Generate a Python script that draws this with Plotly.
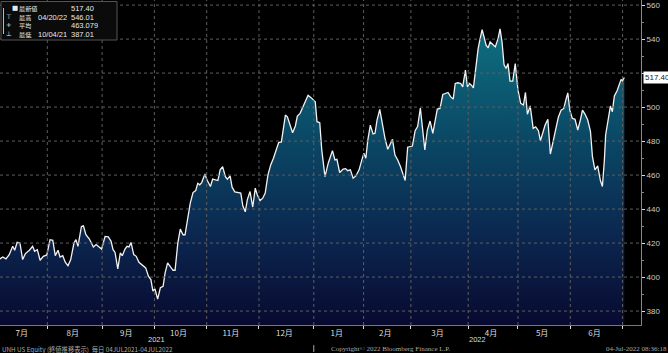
import plotly.graph_objects as go

# trading-day index (0 = 06JUL2021) and closing price
tday = [0.0,1.1,2.4,3.7,5.1,5.9,6.9,8.0,9.1,10.2,11.8,13.1,13.9,15.0,16.1,17.4,18.8,20.1,21.2,22.2,
        23.3,24.1,25.2,26.2,27.3,28.4,29.7,30.5,31.3,32.7,33.5,34.5,35.9,37.5,38.6,39.9,40.8,42.2,43.5,44.6,
        45.4,46.2,47.3,48.3,49.1,50.2,51.0,51.8,52.6,53.7,54.7,55.8,57.1,58.5,59.6,60.6,61.4,62.2,63.3,64.4,
        65.5,66.3,67.3,68.4,69.5,70.3,71.4,72.4,73.5,74.3,75.4,76.4,77.5,78.6,79.4,80.2,81.0,82.3,83.1,84.5,
        85.4,86.5,87.5,88.4,89.4,90.5,91.3,92.4,93.2,94.3,95.6,96.7,97.5,98.5,99.3,100.4,101.5,102.5,103.3,104.4,
        105.5,106.5,107.6,108.7,109.8,110.8,111.9,113.0,113.8,114.6,115.4,116.5,117.5,118.6,119.4,120.5,121.6,122.6,123.7,124.8,
        125.8,126.6,127.3,128.4,129.2,130.5,131.8,133.5,134.5,135.3,136.4,137.8,138.8,139.6,140.7,141.8,142.9,144.2,145.3,146.1,
        146.9,147.7,148.7,149.8,150.6,151.4,152.5,153.5,154.6,155.7,156.7,157.6,158.6,159.7,160.8,161.6,162.7,163.7,164.8,165.6,
        166.7,167.7,168.8,169.6,170.6,171.6,172.7,173.8,174.8,175.6,176.7,177.8,178.8,179.9,181.0,182.0,182.8,183.9,185.0,185.8,
        186.9,187.7,188.5,189.3,190.1,191.2,192.0,192.8,193.6,194.4,195.2,196.0,196.8,197.9,198.9,200.0,200.8,201.6,202.4,203.2,
        204.0,204.8,205.9,206.9,208.0,209.1,210.2,211.0,211.8,212.9,214.1,215.1,216.2,217.0,218.1,218.9,220.0,221.0,222.1,223.2,
        224.2,225.3,226.4,227.2,228.0,228.8,229.8,230.9,232.0,233.1,233.9,234.9,236.0,237.1,237.9,238.9,240.0,241.1,241.9,242.7,
        243.2,244.3,245.1,245.9,246.7,247.8,248.6,249.4,249.9,250.7]

price = [410.7,411.8,410.7,413.2,418.1,415.8,420.4,420.0,410.3,413.8,415.8,418.1,415.2,416.1,409.9,412.2,413.0,422.0,421.6,412.6,
         415.8,411.8,412.6,408.7,406.7,410.3,420.0,422.0,418.1,429.8,430.2,424.9,422.4,417.7,419.1,417.7,416.5,423.9,423.6,421.0,
         416.1,414.5,404.8,414.2,412.6,416.5,418.1,417.7,420.4,413.2,412.2,408.7,407.3,405.4,400.5,398.5,391.7,393.1,387.0,393.7,
         394.6,402.5,408.3,406.0,404.0,404.0,420.0,428.2,424.9,424.9,436.0,443.5,449.7,450.9,455.2,454.3,455.6,460.7,457.2,453.3,
         457.6,457.2,456.8,463.1,465.0,459.1,457.6,459.5,452.9,450.1,449.7,449.4,441.9,438.4,445.4,450.3,441.2,452.3,448.4,445.0,
         446.4,449.4,460.1,466.0,469.9,474.8,479.1,479.5,486.5,495.3,494.3,489.4,484.9,488.9,494.7,496.3,500.2,504.1,506.9,505.7,
         504.1,503.1,491.4,490.8,474.8,459.1,467.0,474.4,468.9,469.3,461.5,463.5,463.8,462.6,463.1,458.2,459.5,463.1,468.9,472.8,
         469.9,480.6,489.4,484.2,484.6,492.4,498.6,490.4,481.6,475.2,478.3,481.0,471.8,468.9,465.0,461.1,456.8,476.4,476.7,477.1,
         486.1,488.5,499.4,490.0,474.8,486.5,491.8,484.6,491.4,498.8,499.2,507.4,508.0,508.6,506.0,504.7,513.9,514.3,513.9,511.9,
         521.7,511.9,513.9,512.9,511.3,524.6,534.4,540.3,545.6,541.2,536.4,534.8,538.3,536.8,535.4,540.3,546.01,538.3,525.0,522.7,
         525.6,515.3,515.3,525.6,510.0,502.2,501.2,508.6,495.8,500.7,487.5,488.4,486.1,480.2,486.5,489.4,492.8,472.4,479.7,487.5,
         494.0,498.2,499.2,504.1,508.4,498.2,493.4,492.8,486.5,492.8,498.2,495.9,492.4,485.7,470.9,463.1,465.4,456.8,453.3,468.9,
         483.6,493.4,500.6,497.3,506.5,509.6,513.5,516.3,515.4,517.4]

assert len(tday) == len(price)

# month boundaries (trading-day index of first trading day of each month)
month_starts = [0, 19, 41, 62, 83, 104, 126, 146, 165, 188, 208, 229, 250]
month_labels = ["7月", "8月", "9月", "10月", "11月", "12月", "1月", "2月", "3月", "4月", "5月", "6月"]
year_labels = ["2021", "2022"]
year_starts = [0, 126]
y_ticks = [380, 400, 420, 440, 460, 480, 500, 520, 540, 560]

last_price = 517.40
legend_rows = [
    ("■", "最新値", "", "517.40"),
    ("⊤", "最高", "04/20/22", "546.01"),
    ("+", "平均", "", "463.079"),
    ("⊥", "最低", "10/04/21", "387.01"),
]

X_MAX = 257.4
Y_MIN, Y_MAX = 371.8, 563.0
PW, PH = 641, 325  # plot area px

fig = go.Figure()
fig.add_trace(go.Scatter(
    x=tday, y=price, mode="lines",
    line=dict(color="#f2f2f2", width=1.3),
    fill="tozeroy",
    fillgradient=dict(type="vertical", start=372, stop=548,
                      colorscale=[[0, "#080a30"], [0.3, "#0b2750"], [0.6, "#0a4664"], [1, "#0e7080"]]),
    hoverinfo="skip", showlegend=False,
))

mids = [(month_starts[i] + month_starts[i + 1]) / 2 - 0.8 for i in range(len(month_labels))]

shapes = []
for v in y_ticks:
    shapes.append(dict(type="line", xref="paper", yref="y", x0=0, x1=1, y0=v, y1=v,
                       line=dict(color="#5e5e5e", width=1, dash="dot"), layer="above"))
for b in month_starts[1:]:
    shapes.append(dict(type="line", xref="x", yref="paper", x0=b, x1=b, y0=0, y1=1,
                       line=dict(color="#5e5e5e", width=1, dash="dot"), layer="above"))
# year separator tick
shapes.append(dict(type="line", xref="x", yref="paper", x0=year_starts[1], x1=year_starts[1],
                   y0=-0.062, y1=-0.083, line=dict(color="#aaaaaa", width=1)))
# legend box
shapes.append(dict(type="rect", xref="paper", yref="paper", x0=1 / PW, x1=117 / PW,
                   y0=1 - 40 / PH, y1=1 - 1.5 / PH, fillcolor="#0b0b0b",
                   line=dict(color="#555555", width=1), layer="above"))
shapes.append(dict(type="line", xref="paper", yref="paper", x0=3.5 / PW, x1=3.5 / PW,
                   y0=1 - 34 / PH, y1=1 - 8 / PH, line=dict(color="#bbbbbb", width=1), layer="above"))

annotations = []
row_y = [7.7, 16.7, 25.3, 33.7]
cjk = "Noto Sans CJK JP"
small = dict(family="Liberation Sans", size=7.5, color="#e8e8e8")
for (icon, lab, date, val), ry in zip(legend_rows, row_y):
    yy = 1 - ry / PH
    icon_x = 11 if icon == "■" else 5
    annotations.append(dict(xref="paper", yref="paper", x=icon_x / PW, y=yy, text=icon, showarrow=False,
                            xanchor="left", yanchor="middle", height=8, borderpad=0,
                            font=dict(family="DejaVu Sans", size=6.5, color="#e8e8e8")))
    annotations.append(dict(xref="paper", yref="paper", x=18 / PW, y=yy, text=lab, showarrow=False,
                            xanchor="left", yanchor="middle", height=8, borderpad=0,
                            font=dict(family=cjk, size=6.2, color="#e8e8e8")))
    if date:
        annotations.append(dict(xref="paper", yref="paper", x=37 / PW, y=yy, text=date, showarrow=False,
                                xanchor="left", yanchor="middle", height=8, borderpad=0, font=small))
    annotations.append(dict(xref="paper", yref="paper", x=70 / PW, y=yy, text=val, showarrow=False,
                            xanchor="left", yanchor="middle", height=8, borderpad=0, font=small))

# current price tag
annotations.append(dict(xref="paper", yref="y", x=1 + 2 / PW, y=last_price, text=f"{last_price:.2f}",
                        showarrow=False, xanchor="left", yanchor="middle", bgcolor="#ffffff",
                        font=dict(family="Liberation Sans", size=8, color="#1a1a1a"), borderpad=1))

# year labels centred on the visible part of each year
bounds = year_starts + [X_MAX]
for i, yl in enumerate(year_labels):
    annotations.append(dict(xref="x", yref="paper", x=(bounds[i] + bounds[i + 1]) / 2, y=1 - 339.8 / PH,
                            text=yl, showarrow=False, xanchor="center", yanchor="middle",
                            height=9, borderpad=0,
                            font=dict(family="Liberation Sans", size=7.5, color="#dddddd")))

# footer
foot_y = 1 - 349 / PH
annotations.append(dict(xref="paper", yref="paper", x=1 / PW, y=foot_y,
                        text="UNH US Equity (終値推移表示)  毎日 04JUL2021-04JUL2022",
                        showarrow=False, xanchor="left", yanchor="middle", height=8, borderpad=0,
                        font=dict(family=cjk, size=6.3, color="#aaaaaa")))
annotations.append(dict(xref="paper", yref="paper", x=330 / PW, y=foot_y,
                        text="Copyright© 2022 Bloomberg Finance L.P.",
                        showarrow=False, xanchor="left", yanchor="middle", height=8, borderpad=0,
                        font=dict(family="Liberation Serif", size=7, color="#aaaaaa")))
annotations.append(dict(xref="paper", yref="paper", x=668 / PW, y=foot_y,
                        text="04-Jul-2022 08:36:18",
                        showarrow=False, xanchor="right", yanchor="middle", height=8, borderpad=0,
                        font=dict(family="Liberation Serif", size=7, color="#aaaaaa")))

# the 520 label sits behind the last-price tag in the original
y_text = ["" if abs(v - last_price) < 8 else str(v) for v in y_ticks]

fig.update_layout(
    width=668, height=353,
    margin=dict(l=0, r=27, t=0, b=28, pad=0),
    paper_bgcolor="#000000", plot_bgcolor="#000000",
    showlegend=False,
    xaxis=dict(range=[0, X_MAX], tickmode="array", tickvals=mids, ticktext=month_labels,
               ticks="", showgrid=False, zeroline=False, showline=True, linecolor="#777777",
               tickfont=dict(family=cjk, size=8, color="#dddddd"), fixedrange=True),
    xaxis2=dict(range=[0, X_MAX], overlaying="x", side="bottom", tickmode="array",
                tickvals=month_starts[1:], ticks="outside", ticklen=3, tickcolor="#dddddd",
                showticklabels=False, showgrid=False, zeroline=False, showline=False),
    yaxis=dict(range=[Y_MIN, Y_MAX], side="right", tickmode="array", tickvals=y_ticks, ticktext=y_text,
               ticks="outside", ticklen=3, tickcolor="#dddddd", showgrid=False, zeroline=False,
               showline=True, linecolor="#888888",
               minor=dict(tickmode="linear", tick0=370, dtick=10, ticks="outside", ticklen=2, tickcolor="#888888"),
               tickfont=dict(family="Liberation Sans", size=8, color="#cccccc")),
    shapes=shapes, annotations=annotations,
)
# invisible trace so xaxis2 is drawn
fig.add_trace(go.Scatter(x=[0], y=[Y_MIN], xaxis="x2", mode="markers", marker=dict(opacity=0),
                         hoverinfo="skip", showlegend=False))

fig.write_html("out.html")
